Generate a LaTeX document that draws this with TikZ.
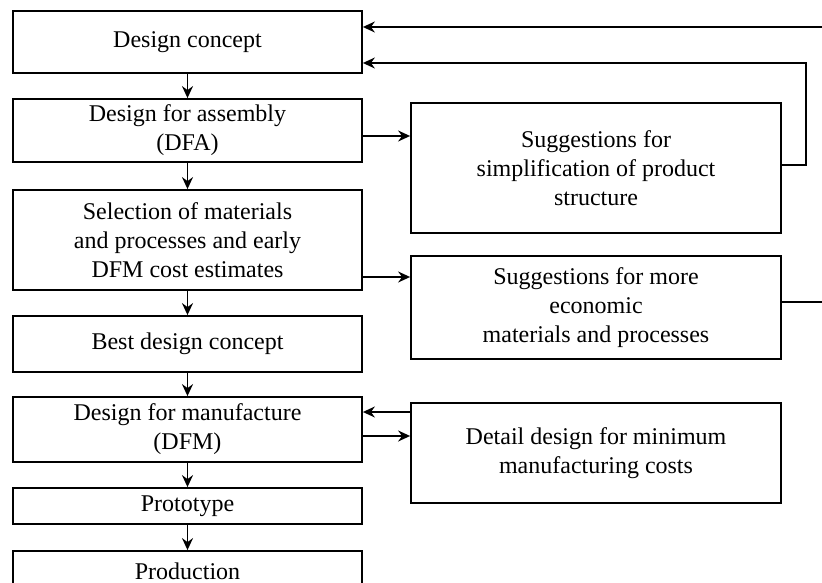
\documentclass[tikz,border=0pt]{standalone}
\usepackage{fontspec}
\setmainfont{Liberation Serif}
\usetikzlibrary{arrows.meta}

\begin{document}
\begin{tikzpicture}[x=1pt,y=-1pt,
  box/.style={draw, line width=1.8pt, align=center, inner sep=0pt,
    font=\fontsize{24}{29}\selectfont},
  leftbox/.style={box, minimum width=349pt},
  rightbox/.style={box, minimum width=370pt},
  arr/.style={line width=1.8pt, -{Stealth[length=12pt,width=11pt,inset=4pt]}}]

% page frame (the last box runs off the bottom edge)
\clip (0,0) rectangle (822,583);

% main column
\node[leftbox, minimum height=62pt] (concept) at (187.5,42) {Design concept};
\node[leftbox, minimum height=63pt] (dfa) at (187.5,130.5) {Design for assembly\\(DFA)};
\node[leftbox, minimum height=100pt] (select) at (187.5,240) {Selection of materials\\and processes and early\\DFM cost estimates};
\node[leftbox, minimum height=56pt] (best) at (187.5,344) {Best design concept};
\node[leftbox, minimum height=65pt] (dfm) at (187.5,429.5) {Design for manufacture\\(DFM)};
\node[leftbox, minimum height=36pt] (proto) at (187.5,506) {Prototype};
\node[leftbox, minimum height=40pt] (prod) at (187.5,571) {Production};

% arrows down the column
\draw[arr] (concept) -- (dfa);
\draw[arr] (dfa) -- (select);
\draw[arr] (select) -- (best);
\draw[arr] (best) -- (dfm);
\draw[arr] (dfm) -- (proto);
\draw[arr] (proto) -- (prod);

% side boxes
\node[rightbox, minimum height=130pt] (simp) at (596,168) {Suggestions for\\simplification of product\\structure};
\node[rightbox, minimum height=103pt] (econ) at (596,307.5) {Suggestions for more\\economic\\materials and processes};
\node[rightbox, minimum height=100pt] (detail) at (596,453) {Detail design for minimum\\manufacturing costs};

% arrows to the side boxes
\draw[arr] (dfa.east |- 0,136) -- (simp.west |- 0,136);
\draw[arr] (select.east |- 0,277) -- (econ.west |- 0,277);
\draw[arr] (detail.west |- 0,412) -- (dfm.east |- 0,412);
\draw[arr] (dfm.east |- 0,436) -- (detail.west |- 0,436);

% feedback lines back to the design concept
\coordinate (inner) at (806,0);
\coordinate (outer) at (840,0);
\draw[arr] (simp.east |- 0,165) -- (inner |- 0,165) -- (inner |- 0,63) -- (concept.east |- 0,63);
\draw[arr] (econ.east |- 0,302) -- (outer |- 0,302) -- (outer |- 0,27) -- (concept.east |- 0,27);

\end{tikzpicture}
\end{document}
